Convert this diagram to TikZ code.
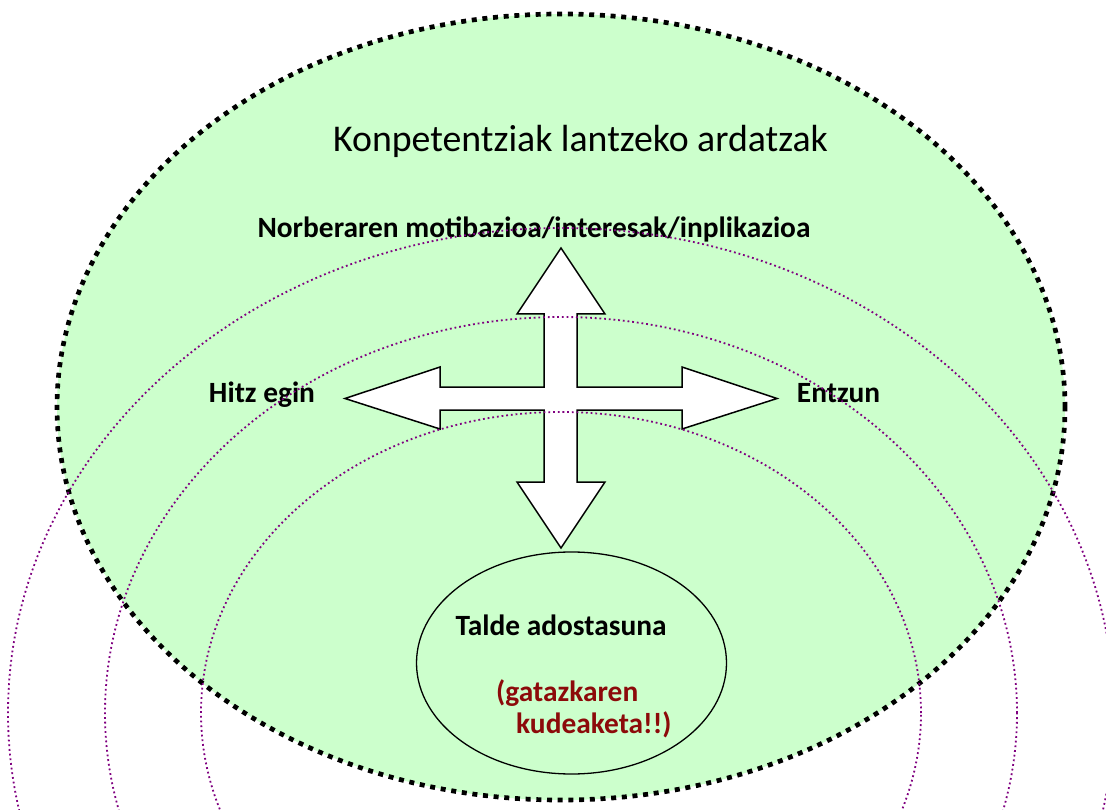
\documentclass[tikz,border=0pt]{standalone}
\usepackage{fontspec}
\setmainfont{Carlito}
\usetikzlibrary{shapes.geometric}
\definecolor{bggreen}{HTML}{CCFFCC}
\definecolor{arcpurple}{HTML}{800080}
\definecolor{kudred}{HTML}{8C0A0A}
\begin{document}
\begin{tikzpicture}[x=1pt,y=-1pt,
  titletxt/.style={font=\fontsize{37.8}{44}\selectfont, inner sep=0pt},
  lbl/.style={font=\fontsize{29.4}{35}\selectfont\bfseries, inner sep=0pt},
  redlbl/.style={lbl, text=kudred},
  ring/.style={draw=arcpurple, line width=1.8pt, dash pattern=on 1.8pt off 2.9pt},
  crossarrow/.style={draw=black, fill=white, line width=1.5pt, line join=miter},
  bigoval/.style={ellipse, fill=bggreen, draw=black, line width=4.7pt, dash pattern=on 5pt off 5.7pt, inner sep=0pt},
  smalloval/.style={ellipse, fill=bggreen, draw=black, line width=1.3pt, inner sep=0pt}
  ]
\useasboundingbox (0,0) rectangle (1106,810);
\clip (0,0) rectangle (1106,810);
\fill[white] (0,0) rectangle (1106,810);
% main oval
\node[bigoval, minimum width=1008pt, minimum height=786pt] (main) at (561,407) {};
% four-way arrow
\draw[crossarrow] (561,248) -- (605,314) -- (577,314) -- (577,387) -- (682,387) -- (682,367)
  -- (777,398.5) -- (682,429) -- (682,410) -- (577,410) -- (577,482) -- (605,482)
  -- (561,548) -- (517,482) -- (544,482) -- (544,410) -- (440,410) -- (440,429)
  -- (345,398.5) -- (440,367) -- (440,387) -- (544,387) -- (544,314) -- (517,314) -- cycle;
% small oval
\node[smalloval, minimum width=310pt, minimum height=222pt] (talde) at (571.5,663) {};
% texts
\node[titletxt, anchor=base] (title) at (580.5,152) {Konpetentziak lantzeko ardatzak};
\node[lbl, anchor=base] (norb) at (534,238) {Norberaren motibazioa/interesak/inplikazioa};
\node[lbl, anchor=base] (hitz) at (262,402) {Hitz egin};
\node[lbl, anchor=base] (entzun) at (838.5,402) {Entzun};
\node[lbl, anchor=base] (taldetxt) at (561,635) {Talde adostasuna};
\node[redlbl, anchor=base west] (gataz) at (496,701) {(gatazkaren};
\node[redlbl, anchor=base west] (kudea) at (516,733) {kudeaketa!!)};
% concentric dotted rings
\coordinate (rc) at (561,713);
\draw[ring] (rc) ellipse [x radius=553pt, y radius=485pt];
\draw[ring] (rc) ellipse [x radius=456pt, y radius=396pt];
\draw[ring] (rc) ellipse [x radius=360pt, y radius=301pt];
\end{tikzpicture}
\end{document}
